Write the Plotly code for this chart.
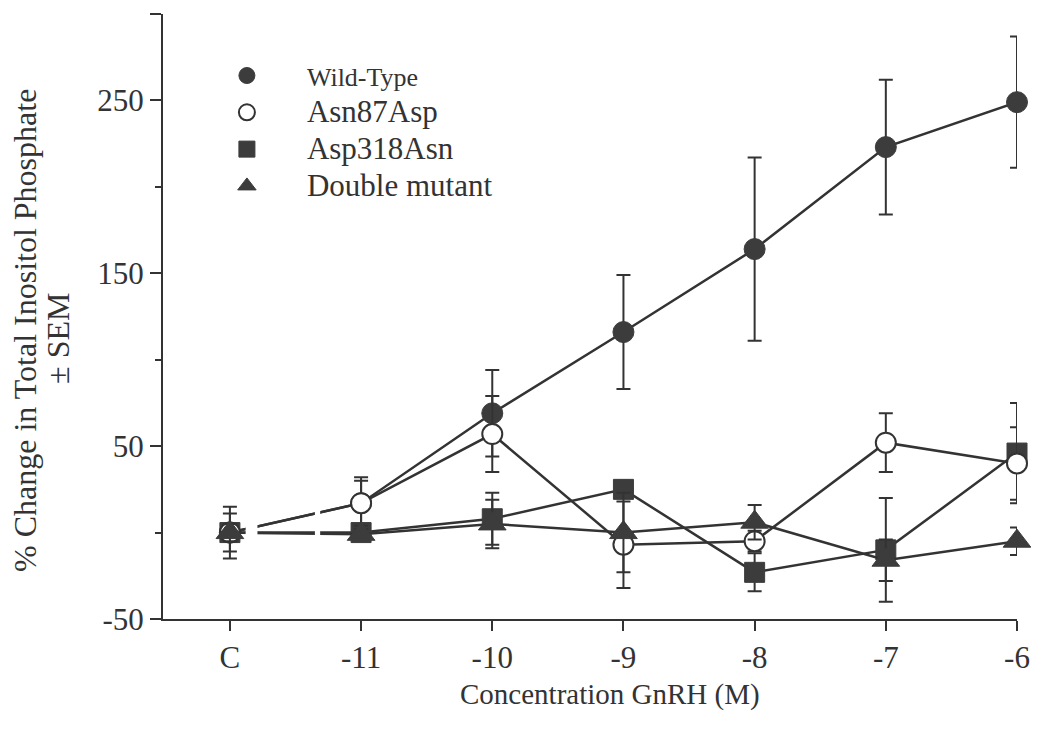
import plotly.graph_objects as go

categories = ["C", "-11", "-10", "-9", "-8", "-7", "-6"]
wt = [0, 17, 69, 116, 164, 223, 249]
wt_err = [15, 15, 25, 33, 53, 39, 38]
asn87 = [0, 17, 57, -7, -5, 52, 40]
asn87_err = [11, 13, 22, 25, 6, 17, 21]
asp318 = [0, 0, 8, 25, -23, -10, 46]
asp318_err = [5, 4, 15, 5, 11, 30, 29]
double = [0, -1, 5, 0, 6, -16, -5]
double_err = [5, 3, 14, 23, 10, 12, 8]

names = ["<span style='font-size:26px'>Wild-Type</span>",
         "<span style='font-size:31px'>Asn87Asp</span>",
         "<span style='font-size:31px'>Asp318Asn</span>",
         "<span style='font-size:31px'>Double mutant</span>"]

xpos = list(range(len(categories)))
INK = "#333333"
FILL = "#3c3c3c"
FONT = "Liberation Serif"

def err(v):
    return dict(type="data", array=v, visible=True, color=INK, thickness=2, width=7)

markers = {
    "wt": dict(symbol="circle", size=21, color=FILL, line=dict(color=FILL, width=1)),
    "asp318": dict(symbol="square", size=20, color=FILL, line=dict(color=FILL, width=1)),
    "asn87": dict(symbol="circle", size=20, color="white", line=dict(color=INK, width=2)),
    "double": dict(symbol="triangle-up", size=24, color=FILL, line=dict(color=FILL, width=1)),
}

fig = go.Figure()
# drawing order: wild-type, Asp318Asn, Asn87Asp, double mutant
for key, yv, ev in [("wt", wt, wt_err), ("asp318", asp318, asp318_err),
                    ("asn87", asn87, asn87_err), ("double", double, double_err)]:
    fig.add_trace(go.Scatter(x=xpos, y=yv, mode="lines+markers", showlegend=False,
                             line=dict(color=INK, width=2.5), marker=markers[key],
                             error_y=err(ev), cliponaxis=False, hoverinfo="x+y"))

# legend entries (markers only, as in the original key)
for rank, (key, nm) in enumerate(zip(["wt", "asn87", "asp318", "double"], names), start=1):
    fig.add_trace(go.Scatter(x=[None], y=[None], mode="markers", name=nm,
                             legendrank=rank, marker=markers[key], showlegend=True))

# axis-break gaps between C and -11
gap_shapes = [
    dict(type="rect", xref="x", yref="y", x0=0.12, x1=0.21, y0=-45, y1=25,
         fillcolor="white", line=dict(width=0), layer="above"),
    dict(type="rect", xref="x", yref="y", x0=0.19, x1=0.225, y0=-54, y1=-45,
         fillcolor="white", line=dict(width=0), layer="above"),
    dict(type="rect", xref="x", yref="y", x0=0.648, x1=0.688, y0=-54, y1=25,
         fillcolor="white", line=dict(width=0), layer="above"),
]

fig.update_layout(
    width=1031, height=726,
    margin=dict(l=155, r=22, t=6, b=115),
    paper_bgcolor="white", plot_bgcolor="white",
    font=dict(family=FONT, color=INK, size=30),
    shapes=gap_shapes,
    showlegend=True,
    legend=dict(x=0.028, y=0.937, xanchor="left", yanchor="top",
                bgcolor="rgba(0,0,0,0)", font=dict(family=FONT, size=26, color=INK),
                itemwidth=110, tracegroupgap=0),
    xaxis=dict(range=[-0.51, 6.0], tickvals=xpos, ticktext=categories,
               showline=True, linecolor=INK, linewidth=2,
               ticks="outside", ticklen=10, tickwidth=2, tickcolor=INK,
               tickfont=dict(family=FONT, size=31, color=INK),
               showgrid=False, zeroline=False, automargin=False),
    yaxis=dict(range=[-50, 300], tickvals=[-50, 50, 150, 250, 300],
               ticktext=["-50", "50", "150", "250", ""],
               showline=True, linecolor=INK, linewidth=2,
               ticks="outside", ticklen=11, tickwidth=2, tickcolor=INK,
               minor=dict(ticks="outside", ticklen=6, tickwidth=2, tickcolor=INK, dtick=100, tick0=0),
               tickfont=dict(family=FONT, size=31, color=INK),
               showgrid=False, zeroline=False, automargin=False),
    annotations=[
        dict(text="Concentration GnRH (M)", xref="paper", yref="paper", x=0.5234, y=-0.1256,
             xanchor="center", yanchor="middle", showarrow=False,
             font=dict(family=FONT, size=29, color=INK)),
        dict(text="% Change in Total Inositol Phosphate", xref="paper", yref="paper",
             x=-0.1616, y=0.4777, xanchor="center", yanchor="middle", textangle=-90,
             showarrow=False, font=dict(family=FONT, size=32, color=INK)),
        dict(text="± SEM", xref="paper", yref="paper",
             x=-0.1230, y=0.4645, xanchor="center", yanchor="middle", textangle=-90,
             showarrow=False, font=dict(family=FONT, size=32, color=INK)),
    ],
)

fig.write_html("out.html")
